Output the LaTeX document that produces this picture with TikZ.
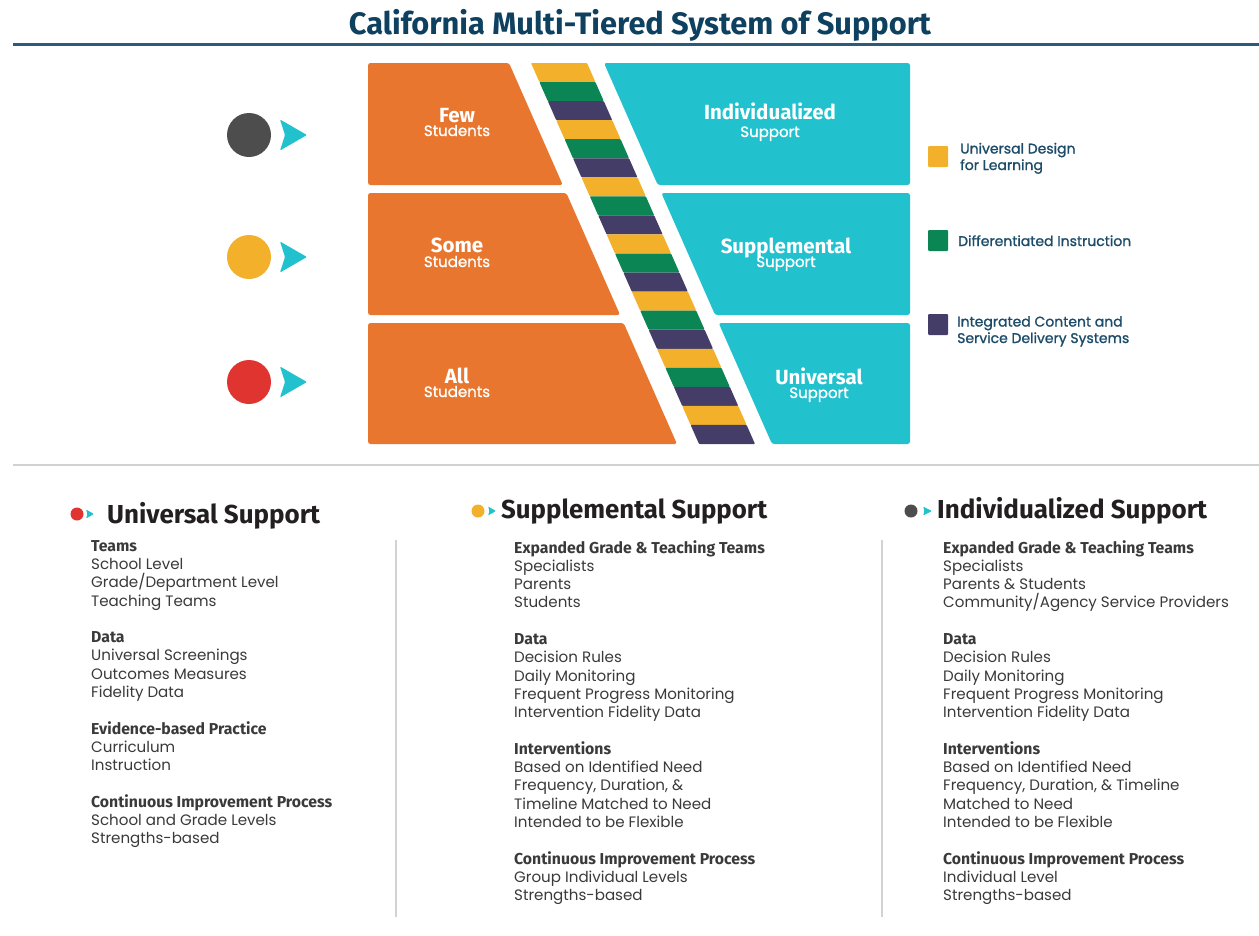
\documentclass[tikz,border=0pt]{standalone}
\usepackage{fontspec}
\setmainfont{Poppins}
\newfontfamily\fira{Fira Sans}
\newfontfamily\medfont{Poppins}[FakeBold=1.2]
\definecolor{orng}{HTML}{E8762F}
\definecolor{cyn}{HTML}{22C1CE}
\definecolor{ylw}{HTML}{F3B02A}
\definecolor{grn}{HTML}{0C8555}
\definecolor{prp}{HTML}{433D68}
\definecolor{dgray}{HTML}{4D4D4D}
\definecolor{rd}{HTML}{E03431}
\definecolor{ttl}{HTML}{0E4060}
\definecolor{ttlrule}{HTML}{2B5A7C}
\definecolor{lgd}{HTML}{1D4C6A}
\definecolor{hdblack}{HTML}{231F20}
\definecolor{body}{HTML}{3A3A3A}
\definecolor{sepgray}{HTML}{D2D2D2}
\newcommand\colhd[1]{{\fira\bfseries\fontsize{15.8}{18.3}\selectfont #1}}
\begin{document}
\begin{tikzpicture}[x=1pt,y=-1pt,
  blk/.style={rounded corners=2.5pt},
  bigtxt/.style={text=white,font=\fira\bfseries\fontsize{20.5}{21}\selectfont,inner sep=0,anchor=base},
  smalltxt/.style={text=white,font=\medfont\fontsize{15}{16}\selectfont,inner sep=0,anchor=base},
  lgdtxt/.style={text=lgd,font=\medfont\fontsize{14}{16.5}\selectfont,align=left,inner sep=0,anchor=base west},
  coltxt/.style={text=body,font=\fontsize{15.1}{18.3}\selectfont,align=left,inner sep=0,anchor=north west},
  hdtxt/.style={text=hdblack,inner sep=0,anchor=base west},
  arr/.style={fill=cyn,rounded corners=1pt}]
\path[use as bounding box,fill=white] (0,0) rectangle (1259,935);
% title
\node[text=ttl,inner sep=0,anchor=base] (title) at (640,34)
  {\resizebox{582pt}{\height}{\fira\bfseries\fontsize{31}{34}\selectfont California Multi-Tiered System of Support}};
\draw[ttlrule,line width=3pt] (13,44) -- (1259,44);
\draw[sepgray,line width=1.5pt] (13,465) -- (1259,465);
% orange blocks
\fill[orng,blk] (368,63) -- (509,63) -- ({509+0.441*122},185) -- (368,185) -- cycle;
\fill[orng,blk] (368,193) -- ({509+0.441*130},193) -- ({509+0.441*252},315) -- (368,315) -- cycle;
\fill[orng,blk] (368,323) -- ({509+0.441*260},323) -- ({509+0.441*381},444) -- (368,444) -- cycle;
% cyan blocks
\fill[cyn,blk] (604,63) -- (910,63) -- (910,185) -- ({604+0.441*122},185) -- cycle;
\fill[cyn,blk] ({604+0.441*130},193) -- (910,193) -- (910,315) -- ({604+0.441*252},315) -- cycle;
\fill[cyn,blk] ({604+0.441*260},323) -- (910,323) -- (910,444) -- ({604+0.441*381},444) -- cycle;
% stripes
\foreach \i in {0,...,19}{
  \pgfmathsetmacro\ya{63+\i*19.05}
  \pgfmathsetmacro\yb{63+(\i+1)*19.05}
  \pgfmathtruncatemacro\m{mod(\i,3)}
  \ifnum\i=19 \def\m{2}\fi
  \ifcase\m \def\sc{ylw}\or \def\sc{grn}\or \def\sc{prp}\fi
  \fill[\sc,rounded corners=0.8pt] ({531+0.441*(\ya-63)},\ya) -- ({587+0.441*(\ya-63)},\ya) -- ({587+0.441*(\yb-63)},\yb) -- ({531+0.441*(\yb-63)},\yb) -- cycle;
}
% block texts
\node[bigtxt] (few) at (457,122) {Few};
\node[smalltxt] (fews) at (457,136) {Students};
\node[bigtxt] (some) at (457,252) {Some};
\node[smalltxt] (somes) at (457,267) {Students};
\node[bigtxt] (all) at (457,383) {All};
\node[smalltxt] (alls) at (457,397) {Students};
\node[bigtxt] (ind) at (770,119) {Individualized};
\node[smalltxt] (inds) at (770,137) {Support};
\node[bigtxt] (sup) at (786,253) {Supplemental};
\node[smalltxt] (sups) at (786,267) {Support};
\node[bigtxt] (uni) at (819,384) {Universal};
\node[smalltxt] (unis) at (819,398) {Support};
% circles and arrows
\fill[dgray] (249,135) circle (22);
\fill[ylw] (249,257) circle (22);
\fill[rd] (249,382) circle (22);
\foreach \yy in {135,257,382}{
  \fill[arr] (280,\yy-15.5) -- (307,\yy) -- (280,\yy+15.5) -- (285,\yy) -- cycle;
}
% legend
\fill[ylw,rounded corners=1pt] (928,146) rectangle (948,167);
\fill[grn,rounded corners=1pt] (928,230) rectangle (948,251);
\fill[prp,rounded corners=1pt] (928,314) rectangle (948,335);
\node[lgdtxt] (l1) at (960,170) {Universal Design\\for Learning};
\node[lgdtxt] (l2) at (958,246) {Differentiated Instruction};
\node[lgdtxt] (l3) at (957,343) {Integrated Content and\\Service Delivery Systems};
% bottom headings
\fill[rd] (77,514) circle (6.5);
\fill[arr] (86,509.5) -- (94,514) -- (86,518.5) -- (87.5,514) -- cycle;
\node[hdtxt] (h1) at (107,523) {\resizebox{213pt}{\height}{\fira\bfseries\fontsize{26}{30}\selectfont Universal Support}};
\fill[ylw] (478,511) circle (6.5);
\fill[arr] (488,506.5) -- (496,511) -- (488,515.5) -- (489.5,511) -- cycle;
\node[hdtxt] (h2) at (501,518) {\resizebox{266pt}{\height}{\fira\bfseries\fontsize{26}{30}\selectfont Supplemental Support}};
\fill[dgray] (911,511) circle (6.5);
\fill[arr] (923,506.5) -- (932,511) -- (923,515.5) -- (924.5,511) -- cycle;
\node[hdtxt] (h3) at (937,518) {\resizebox{270pt}{\height}{\fira\bfseries\fontsize{26}{30}\selectfont Individualized Support}};
% dividers
\draw[sepgray,line width=1.2pt] (396,540) -- (396,917);
\draw[sepgray,line width=1.2pt] (882,540) -- (882,917);
% columns
\node[coltxt] (c1) at (91,540) {\colhd{Teams}\\School Level\\Grade/Department Level\\Teaching Teams\\[18.3pt]
\colhd{Data}\\Universal Screenings\\Outcomes Measures\\Fidelity Data\\[18.3pt]
\colhd{Evidence-based Practice}\\Curriculum\\Instruction\\[18.3pt]
\colhd{Continuous Improvement Process}\\School and Grade Levels\\Strengths-based};
\node[coltxt] (c2) at (514,540) {\colhd{Expanded Grade \& Teaching Teams}\\Specialists\\Parents\\Students\\[18.3pt]
\colhd{Data}\\Decision Rules\\Daily Monitoring\\Frequent Progress Monitoring\\Intervention Fidelity Data\\[18.3pt]
\colhd{Interventions}\\Based on Identified Need\\Frequency, Duration, \&\\Timeline Matched to Need\\Intended to be Flexible\\[18.3pt]
\colhd{Continuous Improvement Process}\\Group Individual Levels\\Strengths-based};
\node[coltxt] (c3) at (943,540) {\colhd{Expanded Grade \& Teaching Teams}\\Specialists\\Parents \& Students\\Community/Agency Service Providers\\[18.3pt]
\colhd{Data}\\Decision Rules\\Daily Monitoring\\Frequent Progress Monitoring\\Intervention Fidelity Data\\[18.3pt]
\colhd{Interventions}\\Based on Identified Need\\Frequency, Duration, \& Timeline\\Matched to Need\\Intended to be Flexible\\[18.3pt]
\colhd{Continuous Improvement Process}\\Individual Level\\Strengths-based};
\end{tikzpicture}
\end{document}
